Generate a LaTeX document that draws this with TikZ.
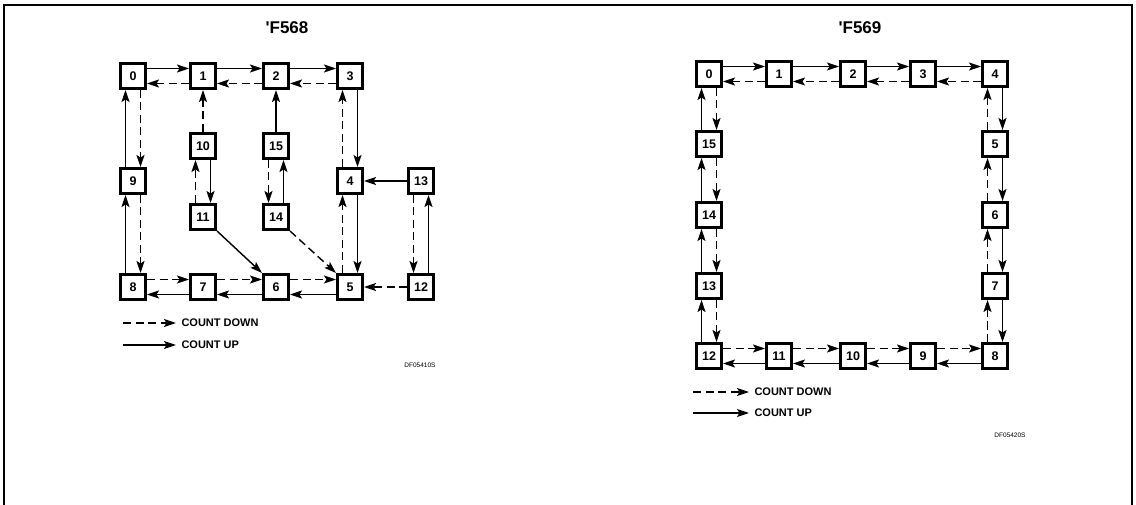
\documentclass[tikz,border=0pt]{standalone}
\usepackage{fontspec}
\setmainfont{Liberation Sans}
\usetikzlibrary{arrows.meta}
\begin{document}
\begin{tikzpicture}[x=1pt,y=-1pt,
  box/.style={draw, line width=3pt, minimum size=25pt, inner sep=0pt, fill=white,
    font=\bfseries\fontsize{12.5}{12.5}\selectfont},
  cup/.style={line width=1.4pt, -{Stealth[length=12pt,width=8pt,inset=2.5pt]}},
  cdn/.style={cup, dash pattern=on 8pt off 4.5pt},
  ttl/.style={font=\bfseries\fontsize{17}{17}\selectfont},
  leg/.style={anchor=west, font=\bfseries\fontsize{11}{11}\selectfont},
  tag/.style={font=\fontsize{6.5}{6.5}\selectfont}]
\useasboundingbox (0,0) rectangle (1136,505);
% frame
\draw[line width=1.5pt] (4,505) -- (4,5) -- (1132,5) -- (1132,505);

% ===== 'F568 =====
\node[ttl] (t1) at (287,28) {\textquotesingle F568};
\node[box] (L0) at (133,76) {0};
\node[box] (L1) at (203,76) {1};
\node[box] (L2) at (276,76) {2};
\node[box] (L3) at (350,76) {3};
\node[box] (L10) at (203,146) {10};
\node[box] (L15) at (276,146) {15};
\node[box] (L9) at (133,181) {9};
\node[box] (L4) at (350,181) {4};
\node[box] (L13) at (421,181) {13};
\node[box] (L11) at (203,217) {11};
\node[box] (L14) at (276,217) {14};
\node[box] (L8) at (133,287) {8};
\node[box] (L7) at (203,287) {7};
\node[box] (L6) at (276,287) {6};
\node[box] (L5) at (350,287) {5};
\node[box] (L12) at (421,287) {12};

% top row: up right (upper), down left (lower)
\foreach \a/\b in {0/1,1/2,2/3}{
  \draw[cup] ([yshift=7.5pt]L\a.east) -- ([yshift=7.5pt]L\b.west);
  \draw[cdn] ([yshift=-7.5pt]L\b.west) -- ([yshift=-7.5pt]L\a.east);
}
% bottom row: down right (upper), up left (lower)
\foreach \a/\b in {8/7,7/6,6/5}{
  \draw[cdn] ([yshift=7.5pt]L\a.east) -- ([yshift=7.5pt]L\b.west);
  \draw[cup] ([yshift=-7.5pt]L\b.west) -- ([yshift=-7.5pt]L\a.east);
}
% left column: solid up on left, dashed down on right
\foreach \a/\b in {0/9,9/8}{
  \draw[cup] ([xshift=-7.5pt]L\b.north) -- ([xshift=-7.5pt]L\a.south);
  \draw[cdn] ([xshift=7.5pt]L\a.south) -- ([xshift=7.5pt]L\b.north);
}
% column 3-4-5: dashed up on left, solid down on right
\foreach \a/\b in {3/4,4/5}{
  \draw[cdn] ([xshift=-7.5pt]L\b.north) -- ([xshift=-7.5pt]L\a.south);
  \draw[cup] ([xshift=7.5pt]L\a.south) -- ([xshift=7.5pt]L\b.north);
}
% 10 / 11
\draw[cdn] ([xshift=-7.5pt]L11.north) -- ([xshift=-7.5pt]L10.south);
\draw[cup] ([xshift=7.5pt]L10.south) -- ([xshift=7.5pt]L11.north);
% 15 / 14
\draw[cdn] ([xshift=-7.5pt]L15.south) -- ([xshift=-7.5pt]L14.north);
\draw[cup] ([xshift=7.5pt]L14.north) -- ([xshift=7.5pt]L15.south);
% 13 / 12
\draw[cdn] ([xshift=-7.5pt]L13.south) -- ([xshift=-7.5pt]L12.north);
\draw[cup] ([xshift=7.5pt]L12.north) -- ([xshift=7.5pt]L13.south);
% singles
\draw[cdn] (L10.north) -- (L1.south);
\draw[cup] (L15.north) -- (L2.south);
\draw[cup] (L13.west) -- (L4.east);
\draw[cdn] (L12.west) -- (L5.east);
\draw[cup] (L11.south east) -- (L6.north west);
\draw[cdn] (L14.south east) -- (L5.north west);
% legend
\coordinate (la1) at (123,323); \coordinate (lb1) at (176,323);
\coordinate (la2) at (123,345); \coordinate (lb2) at (176,345);
\draw[cdn] (la1) -- (lb1);
\draw[cup] (la2) -- (lb2);
\node[leg] (ld) at (178,323) {COUNT DOWN};
\node[leg] (lu) at (178,345) {COUNT UP};
\node[tag] (lt) at (420,365) {DF05410S};

% ===== 'F569 =====
\node[ttl] (t2) at (860,28) {\textquotesingle F569};
\node[box] (R0) at (709,74) {0};
\node[box] (R1) at (779,74) {1};
\node[box] (R2) at (853,74) {2};
\node[box] (R3) at (923,74) {3};
\node[box] (R4) at (995,74) {4};
\node[box] (R15) at (709,144) {15};
\node[box] (R5) at (995,144) {5};
\node[box] (R14) at (709,215) {14};
\node[box] (R6) at (995,215) {6};
\node[box] (R13) at (709,286) {13};
\node[box] (R7) at (995,286) {7};
\node[box] (R12) at (709,356) {12};
\node[box] (R11) at (779,356) {11};
\node[box] (R10) at (853,356) {10};
\node[box] (R9) at (923,356) {9};
\node[box] (R8) at (995,356) {8};

\foreach \a/\b in {0/1,1/2,2/3,3/4}{
  \draw[cup] ([yshift=7.5pt]R\a.east) -- ([yshift=7.5pt]R\b.west);
  \draw[cdn] ([yshift=-7.5pt]R\b.west) -- ([yshift=-7.5pt]R\a.east);
}
\foreach \a/\b in {12/11,11/10,10/9,9/8}{
  \draw[cdn] ([yshift=7.5pt]R\a.east) -- ([yshift=7.5pt]R\b.west);
  \draw[cup] ([yshift=-7.5pt]R\b.west) -- ([yshift=-7.5pt]R\a.east);
}
\foreach \a/\b in {0/15,15/14,14/13,13/12}{
  \draw[cup] ([xshift=-7.5pt]R\b.north) -- ([xshift=-7.5pt]R\a.south);
  \draw[cdn] ([xshift=7.5pt]R\a.south) -- ([xshift=7.5pt]R\b.north);
}
\foreach \a/\b in {4/5,5/6,6/7,7/8}{
  \draw[cdn] ([xshift=-7.5pt]R\b.north) -- ([xshift=-7.5pt]R\a.south);
  \draw[cup] ([xshift=7.5pt]R\a.south) -- ([xshift=7.5pt]R\b.north);
}
% legend
\coordinate (ra1) at (693,392); \coordinate (rb1) at (749,392);
\coordinate (ra2) at (693,413); \coordinate (rb2) at (749,413);
\draw[cdn] (ra1) -- (rb1);
\draw[cup] (ra2) -- (rb2);
\node[leg] (rd) at (751,392) {COUNT DOWN};
\node[leg] (ru) at (751,413) {COUNT UP};
\node[tag] (rt) at (1010,435) {DF05420S};
\end{tikzpicture}
\end{document}
